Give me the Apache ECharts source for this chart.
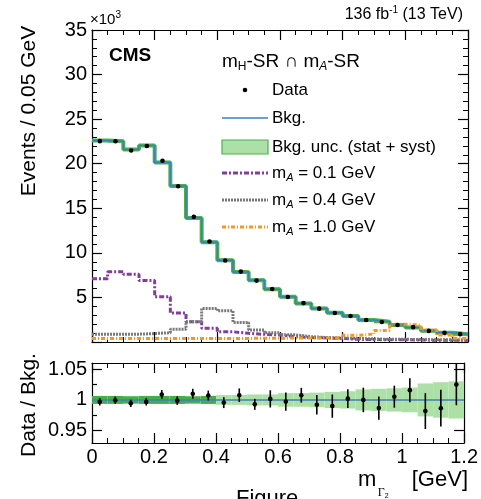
<!DOCTYPE html>
<html>
<head>
<meta charset="utf-8">
<script src="https://cdn.jsdelivr.net/npm/echarts@6/dist/echarts.min.js"></script>
<style>
  html, body { margin: 0; padding: 0; background: #fff; overflow: hidden; }
  #chart { width: 481px; height: 499px; }
</style>
</head>
<body>
<div id="chart"></div>
<script>
// Bin edges of the m_Gamma2 histogram (GeV), 0.05 GeV bins
const binEdges = [0, 0.05, 0.1, 0.15, 0.2, 0.25, 0.3, 0.35, 0.4, 0.45, 0.5, 0.55,
  0.6, 0.65, 0.7, 0.75, 0.8, 0.85, 0.9, 0.95, 1.0, 1.05, 1.1, 1.15, 1.2];

// Events per bin, in units of 10^3
const bkg = [22.6, 22.53, 21.6, 22.05, 20.15, 17.5, 13.9, 11.2, 9.18, 7.84, 6.94, 5.93,
  5.07, 4.33, 3.77, 3.28, 2.91, 2.46, 2.27, 1.90, 1.64, 1.27, 1.04, 0.86];
const bkgUnc = [0.147, 0.146, 0.130, 0.143, 0.131, 0.114, 0.083, 0.073, 0.073, 0.063, 0.062, 0.053,
  0.056, 0.048, 0.045, 0.043, 0.041, 0.042, 0.041, 0.036, 0.033, 0.034, 0.030, 0.026];
const dataVals = [22.53, 22.52, 21.48, 21.98, 20.33, 17.48, 14.04, 11.28, 9.14, 7.90, 6.89, 5.94,
  5.056, 4.363, 3.740, 3.247, 2.916, 2.460, 2.240, 1.910, 1.666, 1.247, 1.026, 0.8815];
const dataErr = [0.135, 0.135, 0.129, 0.132, 0.142, 0.122, 0.112, 0.090, 0.082, 0.087, 0.062, 0.083,
  0.076, 0.052, 0.060, 0.062, 0.044, 0.049, 0.043, 0.034, 0.032, 0.037, 0.031, 0.029];
const sigA01 = [7.1, 7.87, 7.6, 6.9, 5.07, 3.25, 2.27, 1.53, 1.15, 0.97, 0.86, 0.78,
  0.6, 0.5, 0.45, 0.4, 0.3, 0.28, 0.25, 0.25, 0.22, 0.2, 0.2, 0.18];
const sigA04 = [0.88, 0.88, 0.88, 0.95, 1.04, 1.42, 2.27, 3.77, 3.5, 2.2, 1.34, 1.04,
  0.8, 0.6, 0.5, 0.45, 0.4, 0.35, 0.3, 0.3, 0.28, 0.25, 0.25, 0.2];
const sigA10 = [0.4, 0.4, 0.4, 0.4, 0.4, 0.4, 0.4, 0.4, 0.4, 0.4, 0.42, 0.42,
  0.45, 0.45, 0.45, 0.45, 0.75, 0.9, 1.3, 1.98, 1.9, 1.34, 0.78, 0.41];

// Axis ticks
const xTicks = { min: 0, max: 1.2, interval: 0.2 };
const yTicksTop = { min: 0, max: 35, interval: 5 };
const ratioRange = { min: 0.93, max: 1.06 };
const ratioLabels = [0.95, 1, 1.05];
const ratioMinor = [0.975, 1.025];

const FONT = '"Liberation Sans", Arial, Helvetica, sans-serif';
const SERIF = '"Liberation Serif", "DejaVu Serif", serif';
const COL = {
  blue: '#3f7fb8', greenDark: '#45ad4c', greenLight: '#ade0a6', greenLine: '#4cb050',
  purple: '#7f3f98', grey: '#7a7a7a', orange: '#f39a1e'
};

// ---- helpers ----
function stepData(vals) {
  const out = vals.map((v, i) => [binEdges[i], v]);
  out.push([binEdges[vals.length], vals[vals.length - 1]]);
  return out;
}
const binCenter = i => (binEdges[i] + binEdges[i + 1]) / 2;

const measureCtx = document.createElement('canvas').getContext('2d');
function fontStr(k) { return `${k.style || 'normal'} ${k.weight || 'normal'} ${k.size}px ${k.family || FONT}`; }
function textRun(tokens, x, y, align) {
  const widths = tokens.map(k => { measureCtx.font = fontStr(k); return measureCtx.measureText(k.t).width; });
  const total = widths.reduce((a, b) => a + b, 0);
  let cx = align === 'right' ? x - total : x;
  return tokens.map((k, i) => {
    const el = {
      type: 'text', x: cx, y: y + (k.dy || 0), silent: true, z: 100,
      style: { text: k.t, font: fontStr(k), fill: '#000',
        textAlign: 'left', textVerticalAlign: 'middle', align: 'left', verticalAlign: 'middle' }
    };
    cx += widths[i];
    return el;
  });
}

// ---- axes ----
function xAx(grid, pos, labels) {
  return {
    type: 'value', gridIndex: grid, position: pos, ...xTicks,
    axisLine: { show: true, onZero: false, lineStyle: { color: '#000', width: 1.2 } },
    splitLine: { show: false },
    axisTick: { show: true, inside: true, length: 10, lineStyle: { color: '#000', width: 1.2 } },
    minorTick: { show: true, splitNumber: 4, length: 5, lineStyle: { color: '#000', width: 1 } },
    axisLabel: labels ? { show: true, fontSize: 20, fontFamily: FONT, color: '#000', margin: 4 } : { show: false }
  };
}
function yTop(pos, labels) {
  return {
    type: 'value', gridIndex: 0, position: pos, ...yTicksTop,
    axisLine: { show: true, onZero: false, lineStyle: { color: '#000', width: 1.2 } },
    splitLine: { show: false },
    axisTick: { show: true, inside: true, length: 10, lineStyle: { color: '#000', width: 1.2 } },
    minorTick: { show: true, splitNumber: 5, length: 5, lineStyle: { color: '#000', width: 1 } },
    axisLabel: labels ? { show: true, fontSize: 20, fontFamily: FONT, color: '#000', margin: 5,
      formatter: v => (v === 0 ? '' : String(v)) } : { show: false }
  };
}
function yRatio(pos, labels, ticks, len, line) {
  return {
    type: 'value', gridIndex: 1, position: pos, ...ratioRange,
    axisLine: { show: line, onZero: false, lineStyle: { color: '#000', width: 1.2 } },
    splitLine: { show: false },
    axisTick: { show: true, inside: true, length: len, customValues: ticks, lineStyle: { color: '#000', width: 1.2 } },
    minorTick: { show: false },
    axisLabel: labels ? { show: true, fontSize: 20, fontFamily: FONT, color: '#000', margin: 5,
      customValues: ratioLabels } : { show: false }
  };
}

// ---- series ----
function bandSeries(xi, yi, center, unc, minH, colorFn) {
  const rows = center.map((c, i) => [binEdges[i], binEdges[i + 1], c, unc[i]]);
  return {
    type: 'custom', xAxisIndex: xi, yAxisIndex: yi, data: rows, z: 2,
    renderItem: (params, api) => {
      const lo = api.value(0), hi = api.value(1), c = api.value(2), u = api.value(3);
      const p1 = api.coord([lo, c + u]), p2 = api.coord([hi, c - u]);
      let h = p2[1] - p1[1];
      let top = p1[1];
      if (h < minH) { top -= (minH - h) / 2; h = minH; }
      return { type: 'rect', shape: { x: p1[0], y: top, width: p2[0] - p1[0], height: h },
        style: { fill: colorFn(u / c) } };
    }
  };
}
function pointSeries(xi, yi, rows) {
  return {
    type: 'custom', xAxisIndex: xi, yAxisIndex: yi, data: rows, z: 10,
    renderItem: (params, api) => {
      const x = api.value(0), y = api.value(1), e = api.value(2);
      const c = api.coord([x, y]), lo = api.coord([x, y - e]), hi = api.coord([x, y + e]);
      return { type: 'group', children: [
        { type: 'line', shape: { x1: c[0], y1: lo[1], x2: c[0], y2: hi[1] }, style: { stroke: '#000', lineWidth: 1.6 } },
        { type: 'line', shape: { x1: c[0] - 1.5, y1: c[1], x2: c[0] + 1.5, y2: c[1] }, style: { stroke: '#000', lineWidth: 1.2 } },
        { type: 'circle', shape: { cx: c[0], cy: c[1], r: 2.3 }, style: { fill: '#000' } }
      ] };
    }
  };
}
function histLine(vals, color, width, dash, z, xi, yi) {
  return {
    type: 'line', xAxisIndex: xi || 0, yAxisIndex: yi || 0, step: 'end', data: stepData(vals),
    showSymbol: false, symbol: 'none', z: z, silent: true, clip: true,
    lineStyle: { color: color, width: width, type: dash || 'solid' }
  };
}

const dataRows = dataVals.map((v, i) => [binCenter(i), v, dataErr[i]]);
const ratioRows = dataVals.map((v, i) => [binCenter(i), v / bkg[i], dataErr[i] / bkg[i]]);
const ones = bkg.map(() => 1);
const relUnc = bkgUnc.map((u, i) => u / bkg[i]);

// ---- text and legend ----
const graphics = [];
graphics.push(...textRun([{ t: '×10', size: 15 }, { t: '3', size: 10, dy: -5 }], 90, 20));
graphics.push(...textRun([{ t: '136 fb', size: 16 }, { t: '-1', size: 10, dy: -5 },
  { t: ' (13 TeV)', size: 16 }], 463, 15, 'right'));
graphics.push(...textRun([{ t: 'CMS', size: 19, weight: 'bold' }], 109, 56));
graphics.push(...textRun([{ t: 'm', size: 19 }, { t: 'H', size: 12, dy: 5 }, { t: '-SR ∩ m', size: 19 },
  { t: 'A', size: 12, dy: 5, style: 'italic' }, { t: '-SR', size: 19 }], 222, 62));

const legX = 272, symL = 222, symR = 268;
const legRows = [90, 118, 147, 173, 200, 227];
graphics.push({ type: 'circle', shape: { cx: (symL + symR) / 2, cy: legRows[0], r: 2.3 }, style: { fill: '#000' }, z: 100 });
graphics.push({ type: 'line', shape: { x1: symL, y1: legRows[1], x2: symR, y2: legRows[1] }, style: { stroke: COL.blue, lineWidth: 1.6 }, z: 100 });
graphics.push({ type: 'rect', shape: { x: symL, y: legRows[2] - 7, width: symR - symL, height: 14 },
  style: { fill: COL.greenLight, stroke: COL.greenLine, lineWidth: 1.2 }, z: 100 });
graphics.push({ type: 'line', shape: { x1: symL, y1: legRows[3], x2: symR, y2: legRows[3] }, style: { stroke: COL.purple, lineWidth: 3, lineDash: [5, 2, 2, 2] }, z: 100 });
graphics.push({ type: 'line', shape: { x1: symL, y1: legRows[4], x2: symR, y2: legRows[4] }, style: { stroke: COL.grey, lineWidth: 3, lineDash: [2, 1] }, z: 100 });
graphics.push({ type: 'line', shape: { x1: symL, y1: legRows[5], x2: symR, y2: legRows[5] }, style: { stroke: COL.orange, lineWidth: 3, lineDash: [4, 2, 1, 2] }, z: 100 });
graphics.push(...textRun([{ t: 'Data', size: 17 }], legX, legRows[0]));
graphics.push(...textRun([{ t: 'Bkg.', size: 17 }], legX, legRows[1]));
graphics.push(...textRun([{ t: 'Bkg. unc. (stat + syst)', size: 17 }], legX, legRows[2]));
['0.1', '0.4', '1.0'].forEach((m, k) => {
  graphics.push(...textRun([{ t: 'm', size: 17 }, { t: 'A', size: 11, dy: 5, style: 'italic' },
    { t: ' = ' + m + ' GeV', size: 17 }], legX, legRows[3 + k]));
});

graphics.push({ type: 'text', x: 29, y: 111, rotation: Math.PI / 2, z: 100,
  style: { text: 'Events / 0.05 GeV', font: `21px ${FONT}`, fill: '#000', textAlign: 'center', textVerticalAlign: 'middle', align: 'center', verticalAlign: 'middle' } });
graphics.push({ type: 'text', x: 29, y: 405, rotation: Math.PI / 2, z: 100,
  style: { text: 'Data / Bkg.', font: `21px ${FONT}`, fill: '#000', textAlign: 'center', textVerticalAlign: 'middle', align: 'center', verticalAlign: 'middle' } });
// x-axis title: m with a Gamma_2 subscript, then the unit
graphics.push(...textRun([{ t: 'm', size: 22 }, { t: ' ', size: 5 },
  { t: 'Γ', size: 12, dy: 13, family: SERIF }, { t: '2', size: 7, dy: 16 }], 358, 480));
graphics.push(...textRun([{ t: '[GeV]', size: 22 }], 468, 480, 'right'));
graphics.push({ type: 'text', x: 236, y: 488, z: 100,
  style: { text: 'Figure', font: `22px ${FONT}`, fill: '#000', textVerticalAlign: 'top', verticalAlign: 'top' } });

const chart = echarts.init(document.getElementById('chart'), null, { renderer: 'canvas' });
chart.setOption({
  animation: false,
  backgroundColor: '#fff',
  textStyle: { fontFamily: FONT },
  grid: [
    { left: 92, top: 30, width: 376, height: 312 },
    { left: 92, top: 363, width: 376, height: 80 }
  ],
  xAxis: [xAx(0, 'bottom', false), xAx(0, 'top', false), xAx(1, 'bottom', true), xAx(1, 'top', false)],
  yAxis: [
    yTop('left', true), yTop('right', false),
    yRatio('left', true, ratioLabels, 10, true), yRatio('right', false, ratioLabels, 10, true),
    yRatio('left', false, ratioMinor, 5, false), yRatio('right', false, ratioMinor, 5, false)
  ],
  series: [
    bandSeries(0, 0, bkg, bkgUnc, 3, () => COL.greenDark),
    histLine(bkg, COL.greenLine, 4, 'solid', 3),
    histLine(bkg, COL.blue, 1.5, 'solid', 4),
    histLine(sigA01, COL.purple, 3, [5, 2, 2, 2], 5),
    histLine(sigA04, COL.grey, 3, [2, 1], 5),
    histLine(sigA10, COL.orange, 3, [4, 2, 1, 2], 5),
    pointSeries(0, 0, dataRows),
    bandSeries(2, 2, ones, relUnc, 0, r => (r < 0.007 ? COL.greenDark : COL.greenLight)),
    histLine(ones, COL.blue, 1.5, 'solid', 4, 2, 2),
    pointSeries(2, 2, ratioRows)
  ],
  graphic: { elements: graphics }
});
</script>
</body>
</html>
